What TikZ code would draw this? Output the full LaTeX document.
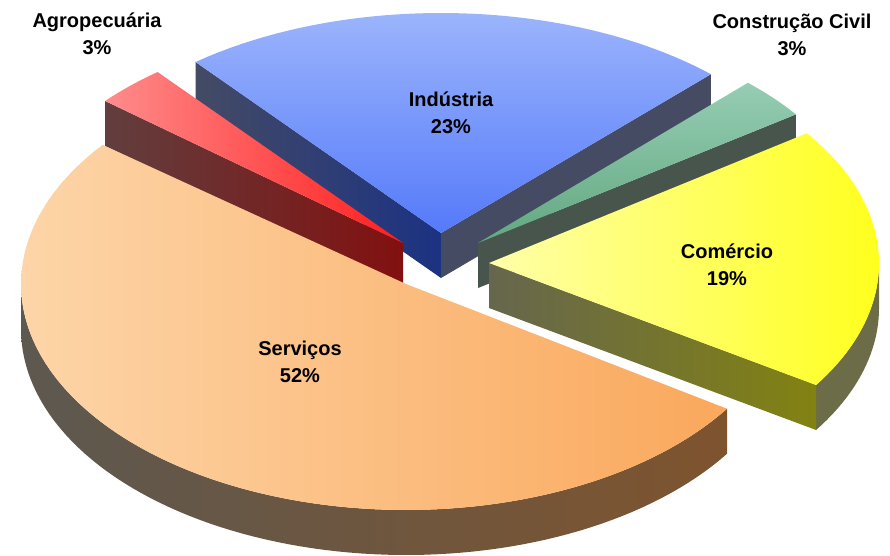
\documentclass[tikz,border=0pt]{standalone}
\usepackage{fontspec}
\setmainfont{Liberation Sans}
\definecolor{servA}{RGB}{253,213,168}
\definecolor{servB}{RGB}{250,168,92}
\definecolor{servSA}{RGB}{93,88,80}
\definecolor{servSB}{RGB}{126,84,46}
\definecolor{agroA}{RGB}{255,140,140}
\definecolor{agroB}{RGB}{255,30,30}
\definecolor{agroSA}{RGB}{98,62,62}
\definecolor{agroSB}{RGB}{130,16,16}
\definecolor{indA}{RGB}{155,180,252}
\definecolor{indB}{RGB}{85,122,250}
\definecolor{indLA}{RGB}{68,75,100}
\definecolor{indLB}{RGB}{28,50,130}
\definecolor{indR}{RGB}{70,75,100}
\definecolor{conA}{RGB}{150,205,180}
\definecolor{conB}{RGB}{98,168,128}
\definecolor{conS}{RGB}{72,85,76}
\definecolor{comA}{RGB}{255,255,170}
\definecolor{comB}{RGB}{255,255,30}
\definecolor{comSA}{RGB}{102,102,78}
\definecolor{comSB}{RGB}{130,130,18}
\definecolor{comC}{RGB}{108,108,72}
\def\PieR{390}
\newcommand\PieTop[6]{%
  \path[#6] (#1,#2) -- plot[domain=#4:#5,samples=80] ({#1+\PieR*cos(\x)},{#2-#3*sin(\x)}) -- cycle;}
\newcommand\PieRadial[5]{%
  \path[#5] (#1,#2) -- ({#1+\PieR*cos(#4)},{#2-#3*sin(#4)}) -- ({#1+\PieR*cos(#4)},{#2-#3*sin(#4)+45}) -- (#1,{#2+45}) -- cycle;}
\newcommand\PieCurve[6]{%
  \path[#6] plot[domain=#4:#5,samples=80] ({#1+\PieR*cos(\x)},{#2-#3*sin(\x)}) -- plot[domain=#5:#4,samples=80] ({#1+\PieR*cos(\x)},{#2-#3*sin(\x)+45}) -- cycle;}
\begin{document}
\begin{tikzpicture}[x=1pt,y=-1pt,
  lbl/.style={font=\bfseries\fontsize{20}{27}\selectfont, align=center, text=black, inner sep=0pt},
  servtop/.style={left color=servA, right color=servB},
  servside/.style={left color=servSA, right color=servSB},
  agrotop/.style={left color=agroA, right color=agroB},
  agroside/.style={left color=agroSA, right color=agroSB},
  indtop/.style={top color=indA, bottom color=indB},
  indleft/.style={left color=indLA, right color=indLB},
  indright/.style={fill=indR},
  contop/.style={shading angle=225, top color=conA, bottom color=conB},
  conside/.style={fill=conS},
  comtop/.style={shading angle=-30, left color=comA, right color=comB},
  comside/.style={left color=comSA, right color=comSB},
  comcurve/.style={fill=comC}]
\useasboundingbox (0,0) rectangle (890,555);
% Industria
\PieRadial{441}{233}{220}{129}{indleft}
\PieRadial{441}{233}{220}{46.2}{indright}
\PieTop{441}{233}{220}{46.2}{129}{indtop}
% Agropecuaria
\PieRadial{403}{243}{220}{139.8}{agroside}
\PieTop{403}{243}{220}{129}{139.8}{agrotop}
% Construcao Civil
\PieRadial{478}{243}{222}{35.4}{conside}
\PieTop{478}{243}{222}{35.4}{46.2}{contop}
% Comercio
\PieCurve{489}{263}{224}{-33}{0}{comcurve}
\PieRadial{489}{263}{224}{-33}{comside}
\PieTop{489}{263}{224}{-33}{35.4}{comtop}
% Servicos
\def\PieR{385}
\PieCurve{406}{284}{226}{180}{326.5}{servside}
\PieTop{406}{284}{226}{142}{326.5}{servtop}
% labels
\node[lbl] (agro) at (97,34) {Agropecuária\\3\%};
\node[lbl] (constr) at (792,35) {Construção Civil\\3\%};
\node[lbl] (ind) at (451,113) {Indústria\\23\%};
\node[lbl] (com) at (727,265) {Comércio\\19\%};
\node[lbl] (serv) at (300,362) {Serviços\\52\%};
\end{tikzpicture}
\end{document}
